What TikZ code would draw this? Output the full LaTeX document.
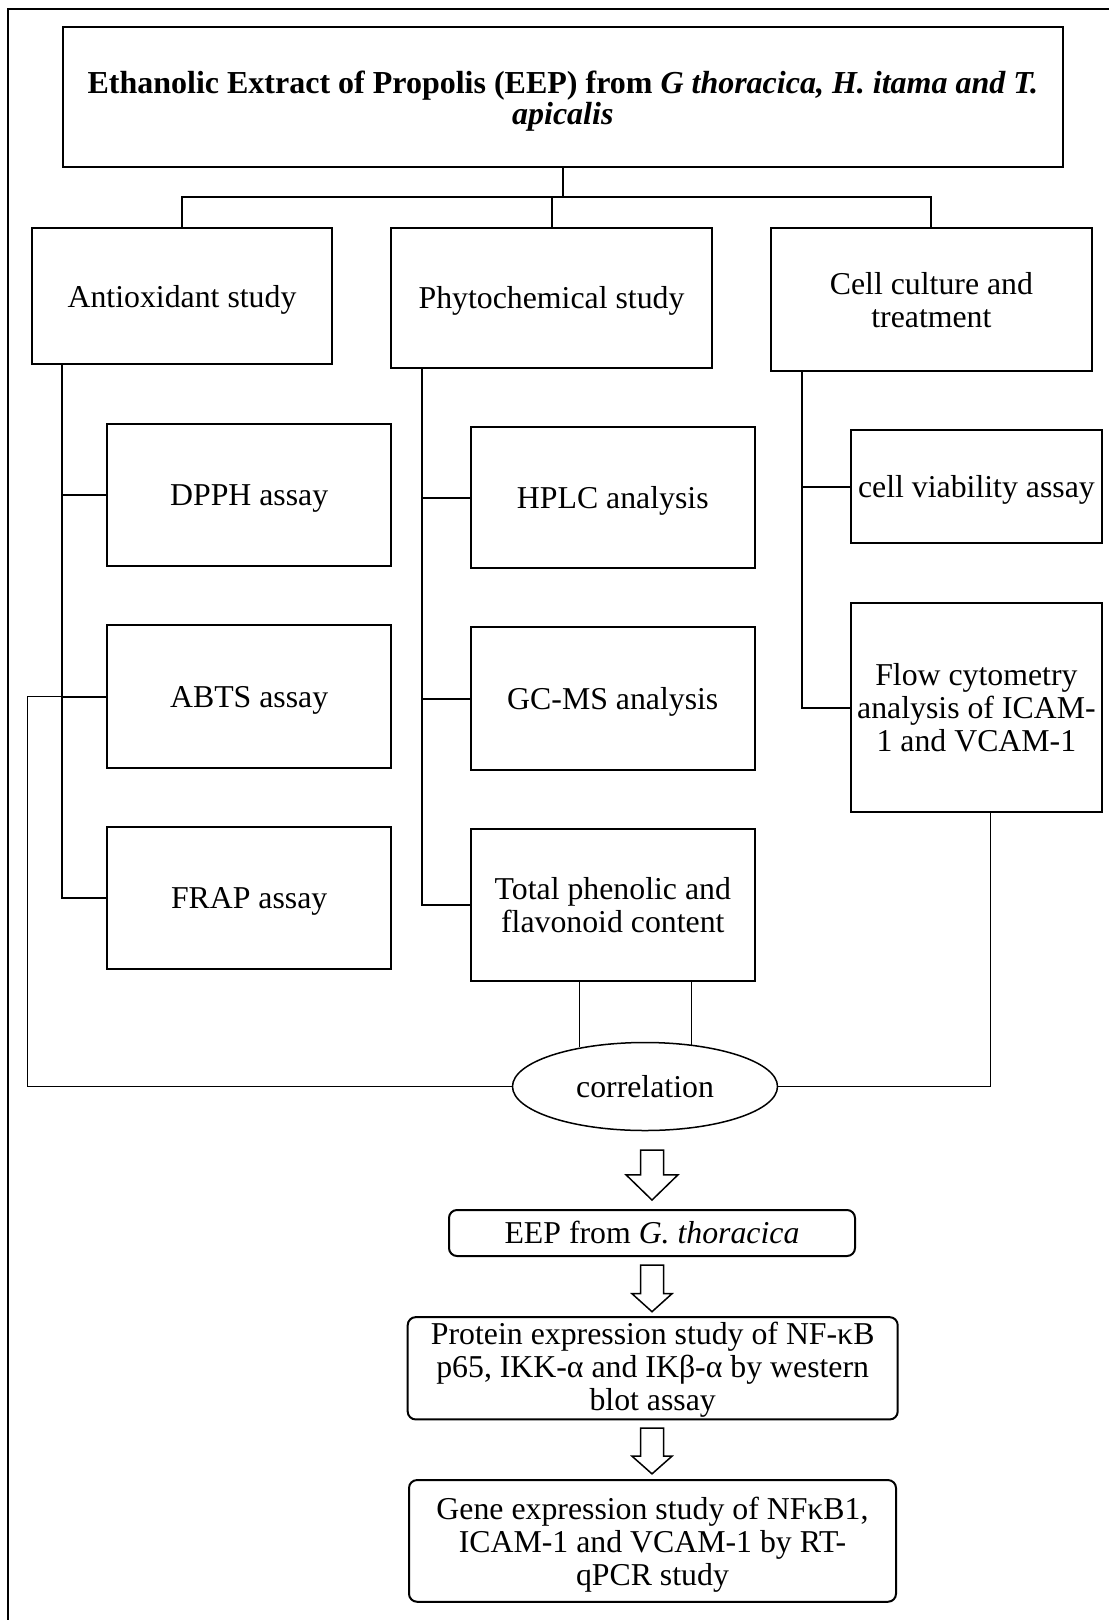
\documentclass[tikz,border=0pt]{standalone}
\usepackage{fontspec}
\setmainfont{Liberation Serif}
\usetikzlibrary{calc,shapes.geometric}
\newcommand{\topgap}[1]{\rule{0pt}{#1em}}
\tikzstyle{box} = [draw, line width=2pt, align=center, inner sep=2pt, font=\fontsize{31.8}{33}\selectfont]
\tikzstyle{strutted} = [execute at begin node={\rule{0pt}{0.891em}}, execute at end node={\rule[-0.216em]{0pt}{0pt}}]
\tikzstyle{roundbox} = [box, rounded corners=8pt]
\tikzstyle{link} = [line width=2pt]
\tikzstyle{thinlink} = [line width=1pt]
\tikzstyle{hollow} = [line width=1.5pt, line join=miter]
\tikzset{pics/hollowdown/.style n args={3}{code={
  \draw[hollow] (-11.5,0) -- (11.5,0) -- (11.5,#1) -- (#3,#1) -- (0,#2) -- (-#3,#1) -- (-11.5,#1) -- cycle;}}}

\begin{document}
\begin{tikzpicture}[x=1pt, y=-1pt]
    \useasboundingbox (0,0) rectangle (1109,1620);
    \draw[link] (8,1620) -- (8,9) -- (1109,9);
    % top level
    \draw (562.8,97.2) node[box, minimum width=999.5pt, minimum height=140.5pt, font=\fontsize{32}{31}\selectfont\bfseries] (title) {\topgap{0.92}Ethanolic Extract of Propolis (EEP) from \textit{G thoracica, H. itama and T.}\\ \textit{apicalis}};
    \draw (182,296.4) node[box, strutted, minimum width=299.4pt, minimum height=135.9pt] (anti) {Antioxidant study};
    \draw (551.5,298.1) node[box, strutted, minimum width=321.5pt, minimum height=139.3pt] (phyto) {Phytochemical study};
    \draw (931.4,299.7) node[box, minimum width=320.7pt, minimum height=142.6pt] (cell) {Cell culture and\\treatment};
    % assays
    \draw (249.2,495.2) node[box, strutted, minimum width=283.7pt, minimum height=141.7pt] (dpph) {DPPH assay};
    \draw (249.2,696.7) node[box, strutted, minimum width=283.7pt, minimum height=142.7pt] (abts) {ABTS assay};
    \draw (249.2,897.7) node[box, strutted, minimum width=283.7pt, minimum height=141.6pt] (frap) {FRAP assay};
    \draw (612.8,497.8) node[box, strutted, minimum width=283.5pt, minimum height=141pt] (hplc) {HPLC analysis};
    \draw (612.8,698.7) node[box, strutted, minimum width=283.5pt, minimum height=142.6pt] (gcms) {GC-MS analysis};
    \draw (612.8,905) node[box, minimum width=283.5pt, minimum height=152pt] (tpc) {Total phenolic and\\flavonoid content};
    \draw (976.4,486.7) node[box, strutted, minimum width=250.7pt, minimum height=113.3pt] (viab) {cell viability assay};
    \draw (976.4,707.5) node[box, minimum width=250.7pt, minimum height=208.4pt] (flow) {Flow cytometry\\analysis of ICAM-\\1 and VCAM-1};
    \draw (645,1086.5) node[box, ellipse, line width=1.5pt, minimum width=265pt, minimum height=88pt] (corr) {correlation};
    % lower chain
    \draw (652,1233) node[roundbox, minimum width=406pt, minimum height=46pt] (eep) {EEP from \textit{G. thoracica}};
    \draw (652.7,1368.3) node[roundbox, minimum width=490pt, minimum height=100pt] (prot) {\topgap{0.8}Protein expression study of NF-κB\\p65, IKK-α and IKβ-α by western\\blot assay};
    \draw (652.5,1540.9) node[roundbox, minimum width=487pt, minimum height=121.7pt] (gene) {\topgap{0.92}Gene expression study of NFκB1,\\ICAM-1 and VCAM-1 by RT-\\qPCR study};
    % tree links
    \draw[link] (title.south) -- ++(0,29) coordinate (hub);
    \draw[link] (anti.north) |- (hub) -| (cell.north);
    \draw[link] (phyto.north) -- (phyto.north |- hub);
    \coordinate (spA) at ([xshift=30.4pt]anti.south west);
    \coordinate (spB) at ([xshift=32.6pt]phyto.south west);
    \coordinate (spC) at ([xshift=32.3pt]cell.south west);
    \draw[link] (spA) |- (frap.west);
    \draw[link] (spB) |- (tpc.west);
    \draw[link] (spC) |- (flow.west);
    \foreach \b in {dpph,abts} \draw[link] (\b.west) -- (\b.west -| spA);
    \foreach \b in {hplc,gcms} \draw[link] (\b.west) -- (\b.west -| spB);
    \draw[link] (viab.west) -- (viab.west -| spC);
    % correlation links
    \draw[thinlink] (abts.west -| spA) -- ++(-33.8,0) |- (corr.west);
    \draw[thinlink] ([xshift=140pt]flow.south west) |- (corr.east);
    \draw[thinlink] (corr.149.5) -- (corr.149.5 |- tpc.south);
    \draw[thinlink] (corr.42.6) -- (corr.42.6 |- tpc.south);
    % block arrows
    \pic at ($(corr.south -| eep.north)+(0,18.8)$) {hollowdown={24.7}{50}{26}};
    \pic at ($(eep.south)+(0,8)$) {hollowdown={28.7}{46.7}{20}};
    \pic at ($(prot.south -| eep.north)+(0,7.7)$) {hollowdown={28}{45.7}{20}};
\end{tikzpicture}
\end{document}
